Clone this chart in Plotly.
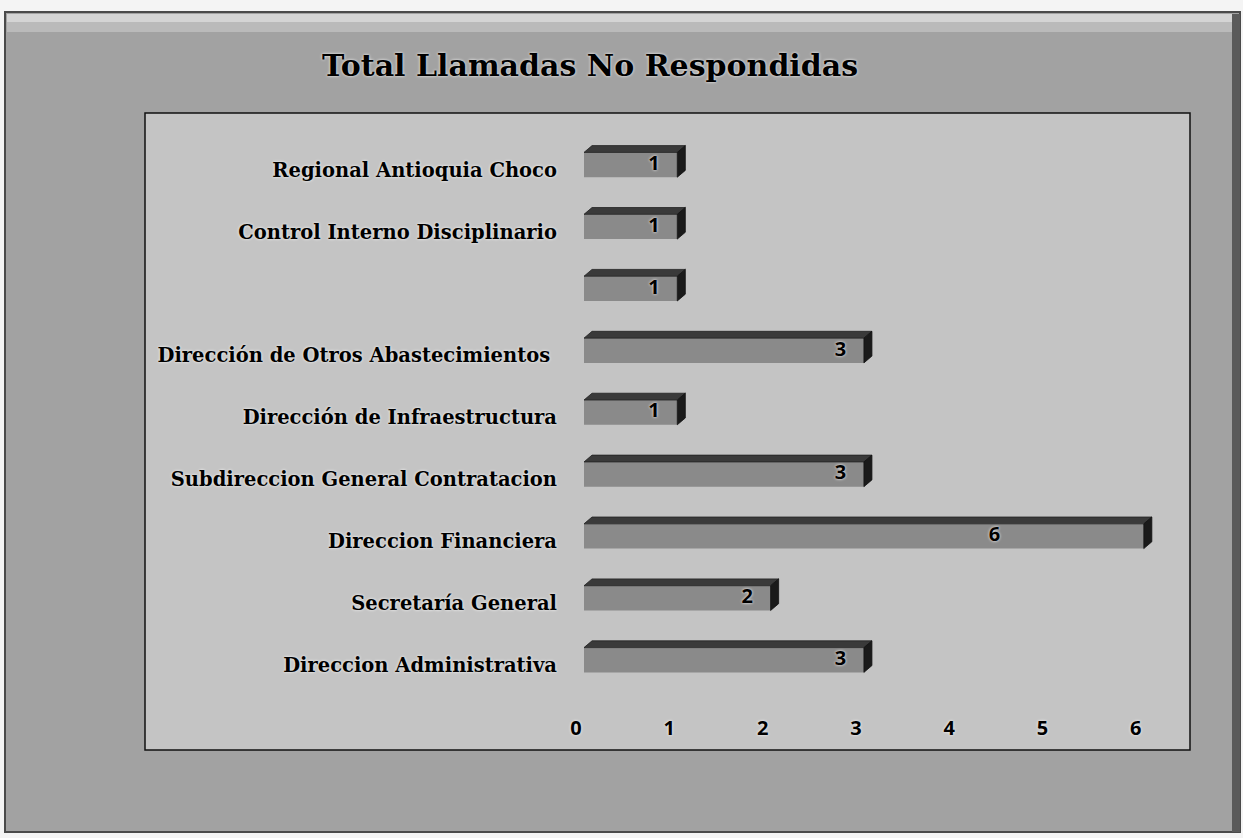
import plotly.graph_objects as go

W, H = 1243, 838

# ---- data (bottom to top) ----
categories = [
    "Direccion Administrativa",
    "Secretaría General",
    "Direccion Financiera",
    "Subdireccion General Contratacion",
    "Dirección de Infraestructura",
    "Dirección de Otros Abastecimientos ",
    "",
    "Control Interno Disciplinario",
    "Regional Antioquia Choco",
]
values = [3, 2, 6, 3, 1, 3, 1, 1, 1]
x_ticks = [0, 1, 2, 3, 4, 5, 6]
title_text = "Total Llamadas No Respondidas"

idx = list(range(len(categories)))

def px(x):
    return x / W

def py(y):
    return 1 - y / H

glow = "0px 0px 3px white"
serif = "DejaVu Serif"
sans = "Open Sans"

bar_w = 0.40
dx, dy = 0.086, 0.11

fig = go.Figure()

# front faces
fig.add_trace(go.Bar(
    y=idx, x=values, orientation="h", width=bar_w,
    marker=dict(color="#8a8a8a", line=dict(width=0)),
    hoverinfo="skip", showlegend=False,
))

# top faces and side faces (3D look) derived from values
tx, ty, sx, sy = [], [], [], []
for i, v in zip(idx, values):
    yt = i + bar_w / 2
    yb = i - bar_w / 2
    tx += [0, v, v + dx, dx, 0, None]
    ty += [yt, yt, yt + dy, yt + dy, yt, None]
    sx += [v, v, v + dx, v + dx, v, None]
    sy += [yb, yt, yt + dy, yb + dy, yb, None]
fig.add_trace(go.Scatter(x=tx, y=ty, mode="lines", fill="toself",
                         fillcolor="#3a3a3a", line=dict(width=0.8, color="#222"),
                         hoverinfo="skip", showlegend=False))
fig.add_trace(go.Scatter(x=sx, y=sy, mode="lines", fill="toself",
                         fillcolor="#1a1a1a", line=dict(width=0.8, color="#111"),
                         hoverinfo="skip", showlegend=False))

# value labels
lab_x = [min(v - 0.25, 4.4) for v in values]
fig.add_trace(go.Scatter(
    x=lab_x, y=idx, mode="text", text=[str(v) for v in values],
    textfont=dict(family=sans, size=20, color="black", weight="bold", shadow=glow),
    hoverinfo="skip", showlegend=False,
))

shapes = [
    # outer chart frame
    dict(type="rect", xref="paper", yref="paper", x0=px(5), x1=px(1240), y0=py(832), y1=py(12),
         fillcolor="#a2a2a2", line=dict(color="#4a4a4a", width=2), layer="below"),
    # top bevel
    dict(type="rect", xref="paper", yref="paper", x0=px(7), x1=px(1238), y0=py(22), y1=py(14),
         fillcolor="#d4d4d4", line=dict(width=0), layer="below"),
    dict(type="rect", xref="paper", yref="paper", x0=px(7), x1=px(1238), y0=py(32), y1=py(22),
         fillcolor="#bababa", line=dict(width=0), layer="below"),
    # right shadow
    dict(type="rect", xref="paper", yref="paper", x0=px(1232), x1=px(1240), y0=py(832), y1=py(14),
         fillcolor="#5a5a5a", line=dict(width=0), layer="below"),
    # plot box
    dict(type="rect", xref="paper", yref="paper", x0=px(145), x1=px(1190), y0=py(750), y1=py(113),
         fillcolor="#c4c4c4", line=dict(color="#111", width=1.5), layer="below"),
]

fig.update_layout(
    width=W, height=H,
    margin=dict(l=0, r=0, t=0, b=0),
    paper_bgcolor="#f4f4f4",
    plot_bgcolor="rgba(0,0,0,0)",
    shapes=shapes,
    title=dict(text=title_text, x=px(590), xanchor="center", y=py(65), yanchor="middle",
               font=dict(family=serif, size=30, color="black", weight="bold", shadow=glow)),
    xaxis=dict(domain=[px(570), px(1190)], range=[-0.15, 6.495],
               tickvals=x_ticks, ticktext=[str(t) for t in x_ticks],
               showgrid=False, zeroline=False, showline=False, ticks="",
               ticklabelshift=-8, ticklabelstandoff=2,
               tickfont=dict(family=sans, size=20, color="black", weight="bold", shadow=glow)),
    yaxis=dict(domain=[py(712), py(113)], range=[-0.84, 8.837],
               tickvals=idx, ticktext=categories,
               showgrid=False, zeroline=False, showline=False, ticks="",
               ticklabelstandoff=12, ticklabelshift=5,
               tickfont=dict(family=serif, size=19.5, color="black", weight="bold", shadow=glow)),
    showlegend=False,
)

fig.write_html("out.html")
